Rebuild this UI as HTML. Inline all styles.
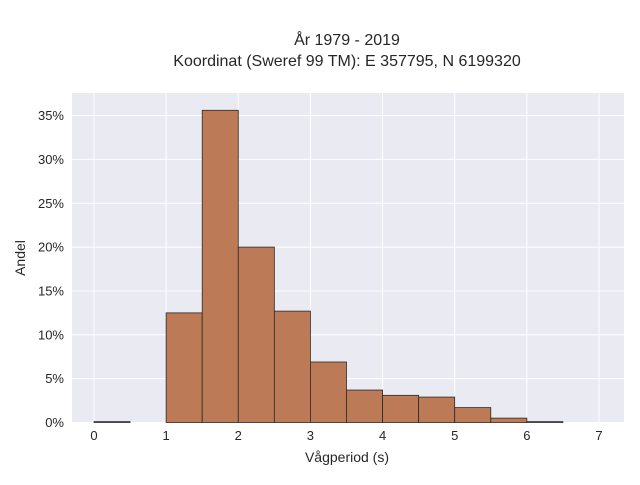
<!DOCTYPE html>
<html><head><meta charset="utf-8"><style>
body{margin:0;background:#fff;}
svg{font-family:"Liberation Sans",sans-serif;}
</style></head><body>
<svg width="640" height="480" id="c">
<text x="347" y="45" text-anchor="middle" font-size="16" fill="#262626">År 1979 - 2019</text>
<text x="347" y="66" text-anchor="middle" font-size="16" fill="#262626">Koordinat (Sweref 99 TM): E 357795, N 6199320</text>
<rect x="72" y="93" width="552" height="330" fill="#eaeaf2"/>
<g id="grid"></g><g id="bars"></g><g id="ticks"></g>
<text x="347" y="462" text-anchor="middle" font-size="14" fill="#262626">Vågperiod (s)</text>
<text transform="translate(25,258) rotate(-90)" text-anchor="middle" font-size="14" fill="#262626">Andel</text>
</svg>
<script>
const binStarts=[0,0.5,1,1.5,2,2.5,3,3.5,4,4.5,5,5.5,6,6.5];
const shares=[0.1,0,12.5,35.6,20.0,12.7,6.9,3.7,3.1,2.9,1.7,0.5,0.1,0];
const xTicks=[0,1,2,3,4,5,6,7];
const yTicks=[0,5,10,15,20,25,30,35];
const binWidth=0.5;
const NS="http://www.w3.org/2000/svg";
const xs=v=>94+v*72.14, ys=v=>422.5-v*8.77;
function mk(t,a,p){const e=document.createElementNS(NS,t);for(const k in a)e.setAttribute(k,a[k]);document.getElementById(p).appendChild(e);return e;}
xTicks.forEach(t=>{
 const g=mk('line',{x1:xs(t),x2:xs(t),y1:93,y2:423,stroke:'#fff','stroke-width':1},'grid');
 
 
 const l=mk('text',{x:xs(t),y:440,'text-anchor':'middle','font-size':13,fill:'#262626'},'ticks');
 l.textContent=t;
 
 
});
yTicks.forEach(t=>{
 const g=mk('line',{x1:72,x2:624,y1:ys(t),y2:ys(t),stroke:'#fff','stroke-width':1},'grid');
 
 
 const l=mk('text',{x:64,y:ys(t)+4.5,'text-anchor':'end','font-size':13,fill:'#262626'},'ticks');
 l.textContent=t+'%';
 
 
});
binStarts.forEach((b,i)=>{
 if(shares[i]<=0)return;
 const r=mk('rect',{x:xs(b),y:ys(shares[i]),width:xs(b+binWidth)-xs(b),height:ys(0)-ys(shares[i]),fill:'#bc7a56',stroke:'#2a2a2a','stroke-width':0.8},'bars');
 
 
});
</script>
</body></html>
